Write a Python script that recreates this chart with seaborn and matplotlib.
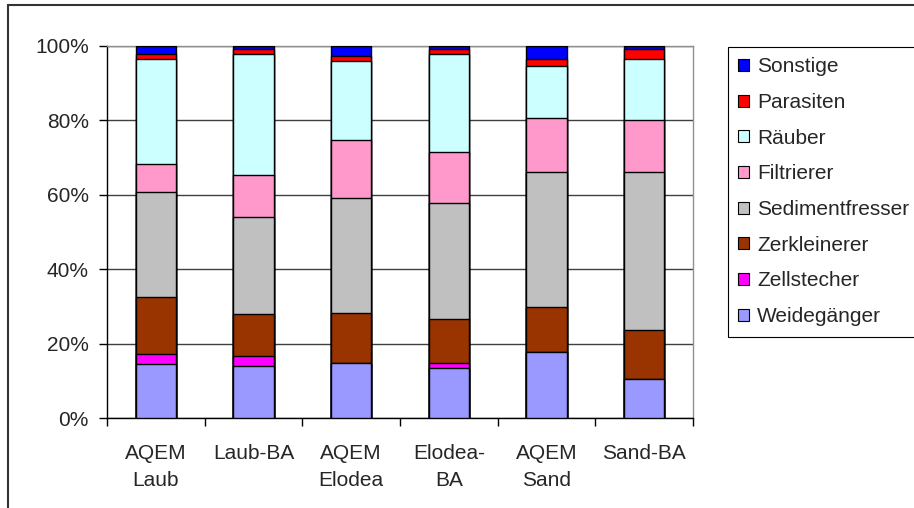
import numpy as np
import matplotlib
matplotlib.use("Agg")
import matplotlib.pyplot as plt
from matplotlib.patches import Patch, Rectangle
import seaborn as sns

# ---- data (percent shares per sample) ----
categories = ["AQEM\nLaub", "Laub-BA", "AQEM\nElodea", "Elodea-\nBA", "AQEM\nSand", "Sand-BA"]
weidegaenger     = [14.4, 14.0, 14.9, 13.5, 17.6, 10.4]
zellstecher      = [2.7, 2.6, 0.0, 1.3, 0.0, 0.0]
zerkleinerer     = [15.5, 11.4, 13.2, 11.9, 12.2, 13.2]
sedimentfresser  = [28.2, 26.0, 31.0, 31.0, 36.4, 42.6]
filtrierer       = [7.4, 11.4, 15.5, 13.7, 14.3, 13.8]
raeuber          = [28.2, 32.4, 21.2, 26.4, 14.0, 16.4]
parasiten        = [1.3, 1.2, 1.3, 1.3, 1.9, 2.7]
sonstige         = [2.3, 1.0, 2.9, 0.9, 3.6, 0.9]

series_names = ["Weidegänger", "Zellstecher", "Zerkleinerer", "Sedimentfresser",
                "Filtrierer", "Räuber", "Parasiten", "Sonstige"]
series_values = [weidegaenger, zellstecher, zerkleinerer, sedimentfresser,
                 filtrierer, raeuber, parasiten, sonstige]
series_colors = ["#9999FF", "#FF00FF", "#993300", "#C0C0C0",
                 "#FF99CC", "#CCFFFF", "#FF0000", "#0000FF"]
y_ticks = [0, 20, 40, 60, 80, 100]
y_ticklabels = ["0%", "20%", "40%", "60%", "80%", "100%"]

sns.set_style("white")
plt.rcParams["font.family"] = ["Liberation Sans", "DejaVu Sans"]

W, H = 914, 508
fig = plt.figure(figsize=(W / 100, H / 100), dpi=100)
ax = fig.add_axes([107 / W, 1 - 418 / H, (693 - 107) / W, (418 - 45.7) / H])

cum = np.cumsum(np.array(series_values), axis=0)
# draw from the top-most cumulative level downwards
for k in range(len(series_names) - 1, -1, -1):
    sns.barplot(x=categories, y=cum[k], color=series_colors[k], saturation=1,
                edgecolor="black", linewidth=1.0, width=0.41, ax=ax, zorder=3)

ax.set_xlim(-0.5, len(categories) - 0.5)
ax.set_ylim(0, 100)
ax.set_xlabel("")
ax.set_ylabel("")

fs = 15
ax.set_yticks(y_ticks)
ax.set_yticklabels(y_ticklabels, fontsize=fs)
ax.tick_params(axis="y", which="major", length=6, width=1, direction="out",
               pad=7, color="black", left=True)
ax.set_xticks(range(len(categories)))
ax.set_xticklabels(categories, fontsize=fs, linespacing=1.5)
ax.tick_params(axis="x", which="major", length=0, pad=19)
ax.set_xticks(np.arange(-0.5, len(categories), 1), minor=True)
ax.tick_params(axis="x", which="minor", length=6, width=1, direction="out",
               color="black", bottom=True)

ax.yaxis.grid(True, color="#404040", linewidth=1.0, zorder=0)
ax.set_axisbelow(True)
for s in ["left", "bottom"]:
    ax.spines[s].set_color("black")
    ax.spines[s].set_linewidth(1.0)
for s in ["top", "right"]:
    ax.spines[s].set_color("#909090")
    ax.spines[s].set_linewidth(1.0)

handles = [Patch(facecolor=series_colors[k], edgecolor="black", linewidth=0.8,
                 label=series_names[k]) for k in range(len(series_names) - 1, -1, -1)]
leg = fig.legend(handles=handles, loc="upper left",
                 bbox_to_anchor=(728 / W, 1 - 47 / H), borderaxespad=0,
                 fontsize=fs, frameon=True, fancybox=False, framealpha=1,
                 edgecolor="black", handlelength=0.5, handleheight=0.5,
                 handletextpad=0.4, labelspacing=0.8, borderpad=0.5)
leg.get_frame().set_linewidth(0.8)

# outer chart border (right/bottom lie outside the image)
fig.add_artist(Rectangle((8 / W, -0.5), 1.5, 1.5 - 5 / H, transform=fig.transFigure,
                         fill=False, edgecolor="#333333", linewidth=1.5))

fig.savefig("out.png", dpi=100)
